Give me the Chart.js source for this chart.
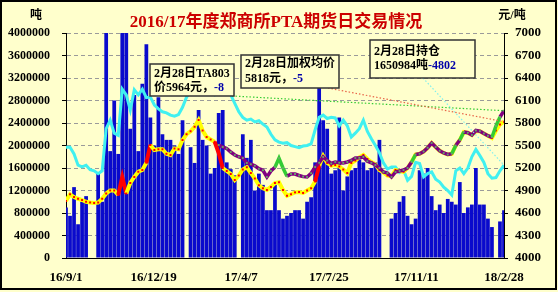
<!DOCTYPE html>
<html>
<head>
<meta charset="utf-8">
<script src="https://cdn.jsdelivr.net/npm/chart.js@4"></script>
<style>
  html, body { margin: 0; padding: 0; background: #FFFFCC; }
  #wrap { width: 558px; height: 292px; }
</style>
</head>
<body>
<div id="wrap"><canvas id="chart" width="558" height="292"></canvas></div>
<script>
// days since 2016-09-01, one sample every 5 calendar days
const days = [0,5,10,15,20,25,30,35,40,45,50,55,60,65,70,75,80,85,90,95,
  100,105,110,115,120,125,130,135,140,145,150,155,160,165,170,175,180,185,190,195,
  200,205,210,215,220,225,230,235,240,245,250,255,260,265,270,275,280,285,290,295,
  300,305,310,315,320,325,330,335,340,345,350,355,360,365,370,375,380,385,390,395,
  400,405,410,415,420,425,430,435,440,445,450,455,460,465,470,475,480,485,490,495,
  500,505,510,515,520,525,530,535,540,545];
const tickDays = [0, 109, 218, 327, 436, 545];
const tickLabels = ['16/9/1', '16/12/19', '17/4/7', '17/7/25', '17/11/11', '18/2/28'];

// 成交量 (吨)
const volume = [900000,750000,1260000,600000,1000000,1100000,0,0,1500000,1000000,
  4300000,1900000,2800000,1850000,4300000,4300000,2300000,2900000,1900000,3100000,
  3800000,2500000,2000000,2860000,2200000,2100000,2100000,2000000,1850000,2450000,
  0,1970000,1690000,2630000,2100000,2000000,1500000,1600000,2580000,2630000,
  1700000,1580000,1470000,0,2200000,1780000,2100000,1200000,1500000,1300000,
  850000,850000,1300000,850000,700000,750000,800000,850000,850000,700000,
  1000000,1080000,1700000,3130000,2450000,2300000,1500000,1560000,2500000,1200000,
  1450000,1560000,1600000,1750000,1700000,1560000,1600000,1700000,2100000,0,
  0,700000,800000,1000000,1100000,750000,600000,700000,1560000,1500000,
  1600000,1100000,850000,950000,800000,1050000,1000000,950000,1350000,800000,
  900000,950000,1600000,950000,950000,700000,550000,0,650000,850000];

// 持仓 (吨)
const openInterest = [1970000,1970000,1850000,1650000,1620000,1650000,1570000,1550000,1500000,1550000,
  2300000,2450000,2220000,2180000,3000000,2900000,2630000,2990000,2900000,3000000,
  2850000,2860000,2720000,2650000,2600000,2580000,2540000,2520000,2550000,2680000,
  2860000,2950000,3050000,3100000,3160000,3050000,2990000,2900000,2930000,2950000,
  2920000,2900000,2750000,2600000,2500000,2450000,2470000,2420000,2440000,2380000,
  2330000,2200000,2100000,2060000,2040000,2050000,2000000,1980000,1960000,1990000,
  2000000,2030000,2280000,2500000,2540000,2480000,2500000,2490000,2350000,2450000,
  2350000,2150000,2220000,2300000,2450000,2250000,2120000,2000000,1870000,1690000,
  1580000,1620000,1620000,1520000,1560000,1380000,1450000,1700000,1680000,1440000,
  1500000,1530000,1400000,1350000,1260000,1200000,1120000,1550000,1600000,1500000,
  1600000,1800000,1930000,1820000,1700000,1500000,1420000,1430000,1550000,1650984];

// 加权均价 (元/吨)
const avgPrice = [4760,4850,4813,4790,4773,4750,4740,4733,4740,4790,
  4860,4900,4900,4840,5080,4860,5000,5080,5150,5173,
  5270,5507,5440,5450,5450,5390,5373,5460,5450,5573,
  5650,5690,5750,5840,5700,5613,5580,5550,5400,5200,
  5160,5120,5040,5100,5180,5210,5133,5060,4970,4930,
  4907,4947,5000,5010,4907,4830,4850,4875,4880,4867,
  4900,4930,5020,5230,5360,5267,5230,5240,5220,5180,
  5133,5267,5300,5340,5373,5320,5280,5250,5173,5140,
  5100,5090,5173,5160,5150,5200,5280,5380,5390,5420,
  5470,5533,5480,5430,5400,5380,5387,5500,5573,5680,
  5670,5640,5690,5690,5660,5630,5600,5700,5780,5818];

// TA803 价格 (元/吨), listed from 2017-02
const ta803Price = [null,null,null,null,null,null,null,null,null,null,
  null,null,null,null,null,null,null,null,null,null,
  null,null,null,null,null,null,null,null,null,null,
  null,null,null,null,null,null,null,null,5507,5480,
  5460,5413,5373,5350,5333,5267,5250,5230,5190,5170,
  5080,5160,5210,5330,5200,5090,5120,5120,5100,5085,
  5080,5130,5213,5270,5347,5300,5260,5280,5270,5267,
  5280,5300,5333,5335,5347,5290,5270,5240,5200,5147,
  5133,5080,5147,5160,5173,5200,5280,5380,5390,5420,
  5470,5533,5480,5430,5400,5380,5390,5500,5573,5680,
  5670,5640,5700,5690,5660,5630,5610,5760,5880,5964];

// 2月28日 changes shown in the notes
const noteChanges = ['-8', '-5', '-4802'];

const bg = '#FFFFCC';
const serif = '"Liberation Serif", "Times New Roman", "Noto Sans CJK SC", serif';
const toXY = arr => days.map((d, i) => ({ x: d, y: arr[i] }));
const bigMove = (c, lim) => Math.abs(c.p1.parsed.y - c.p0.parsed.y) > lim;

function drawNote(ctx, x, y, w, h, lines) {
  ctx.fillStyle = bg;
  ctx.fillRect(x, y, w, h);
  ctx.strokeStyle = '#333';
  ctx.lineWidth = 1.5;
  ctx.strokeRect(x, y, w, h);
  ctx.font = 'bold 12px ' + serif;
  ctx.textBaseline = 'middle';
  ctx.textAlign = 'left';
  lines.forEach(([ty, parts]) => {
    let tx = x + 4;
    parts.forEach(([text, color]) => {
      ctx.fillStyle = color;
      ctx.fillText(text, tx, ty);
      tx += ctx.measureText(text).width;
    });
  });
}

const decor = {
  id: 'decor',
  beforeDraw(chart) {
    const ctx = chart.ctx;
    ctx.save();
    ctx.fillStyle = bg;
    ctx.fillRect(0, 0, chart.width, chart.height);
    ctx.restore();
  },
  afterDatasetsDraw(chart) {
    const ctx = chart.ctx;
    const { x, y, y1 } = chart.scales;
    const n = days.length - 1;
    const xEnd = x.getPixelForValue(days[n]);
    const leaders = [
      [232, 96, y1.getPixelForValue(ta803Price[n]), '#33CC33'],
      [328, 88, y1.getPixelForValue(avgPrice[n]), '#E8664A'],
      [423, 78, y.getPixelForValue(openInterest[n]), '#7FEFEF']
    ];
    ctx.save();
    ctx.lineWidth = 1.2;
    ctx.setLineDash([1.5, 2]);
    leaders.forEach(([x0, y0, yEnd, color]) => {
      ctx.strokeStyle = color;
      ctx.beginPath();
      ctx.moveTo(x0, y0);
      ctx.lineTo(xEnd, yEnd);
      ctx.stroke();
    });
    ctx.setLineDash([]);
    drawNote(ctx, 150, 64, 84, 32, [
      [74, [['2月28日TA803', '#000']]],
      [88, [['价' + ta803Price[n] + '元，', '#000'], [noteChanges[0], '#0000AA']]]
    ]);
    drawNote(ctx, 241, 55, 98, 33, [
      [64, [['2月28日加权均价', '#000']]],
      [79, [[avgPrice[n] + '元，', '#000'], [noteChanges[1], '#0000AA']]]
    ]);
    drawNote(ctx, 370, 40, 105, 38, [
      [52, [['2月28日持仓', '#000']]],
      [66, [[openInterest[n] + '吨', '#000'], [noteChanges[2], '#0000AA']]]
    ]);
    ctx.restore();
  },
  afterDraw(chart) {
    const ctx = chart.ctx;
    ctx.save();
    ctx.textAlign = 'center';
    ctx.textBaseline = 'middle';
    ctx.fillStyle = '#CC0000';
    ctx.font = 'bold 17px ' + serif;
    ctx.fillText('2016/17年度郑商所PTA期货日交易情况', 276, 23);
    ctx.fillStyle = '#000';
    ctx.font = 'bold 12px ' + serif;
    ctx.fillText('吨', 36, 16);
    ctx.fillText('元/吨', 512, 16);
    ctx.strokeStyle = '#000';
    ctx.lineWidth = 2;
    ctx.strokeRect(1, 1, 555, 288);
    ctx.restore();
  }
};

const plain = v => String(v);

new Chart(document.getElementById('chart'), {
  type: 'bar',
  data: {
    datasets: [
      {
        type: 'line', label: 'TA803', data: toXY(ta803Price), yAxisID: 'y1', order: 1,
        borderColor: '#800080', borderWidth: 3.5, tension: 0,
        pointStyle: 'rect', pointRadius: 1.3, pointBorderWidth: 0, pointBackgroundColor: '#66AA66',
        segment: { borderColor: c => bigMove(c, 95) ? '#33CC33' : '#800080' }
      },
      {
        type: 'line', label: '加权均价', data: toXY(avgPrice), yAxisID: 'y1', order: 2,
        borderColor: '#FFFF00', borderWidth: 4, tension: 0,
        pointStyle: 'rect', pointRadius: 1.4, pointBorderWidth: 0, pointBackgroundColor: '#FF0000',
        segment: { borderColor: c => bigMove(c, 140) ? '#FF0000' : '#FFFF00' }
      },
      {
        type: 'line', label: '持仓', data: toXY(openInterest), yAxisID: 'y', order: 3,
        borderColor: '#40F0F0', borderWidth: 3, pointRadius: 0, tension: 0
      },
      {
        type: 'bar', label: '成交量', data: toXY(volume), yAxisID: 'y', order: 4,
        backgroundColor: '#0A0ACC', barPercentage: 1, categoryPercentage: 0.93
      }
    ]
  },
  options: {
    responsive: false,
    animation: false,
    events: [],
    layout: { padding: { top: 33, left: 0, right: 0, bottom: 0 } },
    plugins: { legend: { display: false }, tooltip: { enabled: false } },
    scales: {
      x: {
        type: 'linear', min: 0, max: 545, offset: false,
        afterBuildTicks: s => { s.ticks = tickDays.map(v => ({ value: v })); },
        ticks: { callback: (v, i) => tickLabels[i], font: { family: serif, size: 13, weight: 'bold' },
                 color: '#000', padding: 12, maxRotation: 0, autoSkip: false },
        grid: { drawOnChartArea: false, drawTicks: false },
        border: { color: '#000', width: 1 },
        afterFit: s => { s.height = 34; }
      },
      y: {
        position: 'left', min: 0, max: 4000000,
        ticks: { stepSize: 400000, callback: plain, font: { family: serif, size: 12, weight: 'bold' },
                 color: '#000', padding: 12 },
        grid: { color: '#9A9A9A', lineWidth: 1, tickLength: 4, tickColor: '#000' },
        border: { color: '#000', width: 1, dash: [4, 3] },
        afterFit: s => { s.width = 66; }
      },
      y1: {
        position: 'right', min: 4000, max: 7000,
        ticks: { stepSize: 300, callback: plain, font: { family: serif, size: 13, weight: 'bold' },
                 color: '#000', padding: 7 },
        grid: { drawOnChartArea: false, tickLength: 4, tickColor: '#000' },
        border: { color: '#000', width: 1 },
        afterFit: s => { s.width = 54; }
      }
    }
  },
  plugins: [decor]
});
</script>
</body>
</html>
